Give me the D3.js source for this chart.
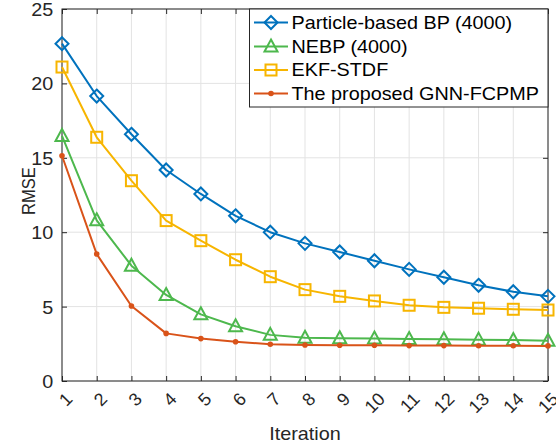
<!DOCTYPE html>
<html><head><meta charset="utf-8">
<script src="https://cdn.jsdelivr.net/npm/d3@7"></script>
<style>
html,body{margin:0;padding:0;background:#fff;}
svg{display:block;font-family:"Liberation Sans",Arial,Helvetica,sans-serif;}
</style></head>
<body><svg id="c" width="556" height="446"></svg>
<script>
const iterations = [1,2,3,4,5,6,7,8,9,10,11,12,13,14,15];
const bpValues   = [22.67,19.15,16.58,14.18,12.57,11.1,10.0,9.25,8.67,8.08,7.5,6.97,6.43,6.0,5.69];
const nebpValues = [16.47,10.8,7.75,5.78,4.48,3.68,3.1,2.9,2.87,2.85,2.82,2.8,2.78,2.75,2.7];
const ekfValues  = [21.1,16.38,13.46,10.78,9.43,8.15,7.01,6.14,5.69,5.38,5.09,4.95,4.89,4.82,4.77];
const gnnValues  = [15.14,8.53,5.04,3.2,2.85,2.64,2.47,2.42,2.4,2.4,2.38,2.38,2.37,2.37,2.36];
const seriesNames = ["Particle-based BP (4000)","NEBP (4000)","EKF-STDF","The proposed GNN-FCPMP"];
const yTicks = [0,5,10,15,20,25];
const xLabel = "Iteration", yLabel = "RMSE";

const series = [
  {name: seriesNames[0], values: bpValues,   color:"#0072BD", marker:"diamond"},
  {name: seriesNames[1], values: nebpValues, color:"#4DB84D", marker:"triangle"},
  {name: seriesNames[2], values: ekfValues,  color:"#F7B500", marker:"square"},
  {name: seriesNames[3], values: gnnValues,  color:"#D95319", marker:"dot"}
];

const L = 62, R = 548, T = 9, B = 381;
const x = d3.scaleLinear().domain([1,15]).range([L,R]);
const y = d3.scaleLinear().domain([0,25]).range([B,T]);
const svg = d3.select("#c");
const axisColor = "#262626";

// grid
const g = svg.append("g");
g.selectAll(".vg").data(iterations).enter().append("line")
  .attr("x1",d=>x(d)).attr("x2",d=>x(d)).attr("y1",T).attr("y2",B)
  .attr("stroke","#e3e3e3").attr("stroke-width",1);
g.selectAll(".hg").data(yTicks).enter().append("line")
  .attr("x1",L).attr("x2",R).attr("y1",d=>y(d)).attr("y2",d=>y(d))
  .attr("stroke","#e3e3e3").attr("stroke-width",1);

// axes
function styleAxis(sel){
  sel.select(".domain").remove();
  sel.selectAll(".tick line").attr("stroke",axisColor).attr("stroke-width",1);
}
const xb = svg.append("g").attr("transform",`translate(0,${B})`)
  .call(d3.axisBottom(x).tickValues(iterations).tickSize(-5).tickFormat(d3.format("d")));
styleAxis(xb);
xb.selectAll(".tick text")
  .attr("font-size",18).attr("fill",axisColor)
  .attr("text-anchor","end").attr("y",0).attr("x",0).attr("dy","0.72em")
  .attr("transform","translate(2,10) rotate(-45)");
const xt = svg.append("g").attr("transform",`translate(0,${T})`)
  .call(d3.axisTop(x).tickValues(iterations).tickSize(-5).tickFormat(""));
styleAxis(xt);
const yl = svg.append("g").attr("transform",`translate(${L},0)`)
  .call(d3.axisLeft(y).tickValues(yTicks).tickSize(-5).tickFormat(d3.format("d")));
styleAxis(yl);
yl.selectAll(".tick text").attr("font-size",18).attr("fill",axisColor)
  .attr("x",-8).attr("dy","0.36em")
  .attr("transform","scale(1.1,1)");
const yr = svg.append("g").attr("transform",`translate(${R},0)`)
  .call(d3.axisRight(y).tickValues(yTicks).tickSize(-5).tickFormat(""));
styleAxis(yr);
svg.append("rect").attr("x",L).attr("y",T).attr("width",R-L).attr("height",B-T)
  .attr("fill","none").attr("stroke",axisColor).attr("stroke-width",1);

// labels
svg.append("text").attr("transform",`translate(${(L+R)/2},440) scale(1.1,1)`)
  .attr("text-anchor","middle").attr("font-size",18).attr("fill",axisColor).text(xLabel);
svg.append("text").attr("transform",`translate(35,191) rotate(-90) scale(0.92,1)`)
  .attr("text-anchor","middle").attr("font-size",18).attr("fill",axisColor).text(yLabel);

// markers
function drawMarker(sel, type, color){
  if(type==="diamond"){
    sel.append("path").attr("d","M0,-6.5L6.5,0L0,6.5L-6.5,0Z")
      .attr("fill","none").attr("stroke",color).attr("stroke-width",2);
  } else if(type==="square"){
    sel.append("rect").attr("x",-5.5).attr("y",-5.5).attr("width",11).attr("height",11)
      .attr("fill","none").attr("stroke",color).attr("stroke-width",2);
  } else if(type==="triangle"){
    sel.append("path").attr("d","M0,-7L6.5,5L-6.5,5Z")
      .attr("fill","none").attr("stroke",color).attr("stroke-width",2);
  } else {
    sel.append("circle").attr("r",2.8).attr("fill",color);
  }
}

const line = d3.line().x((d,i)=>x(iterations[i])).y(d=>y(d));
series.forEach(s=>{
  svg.append("path").datum(s.values).attr("d",line)
    .attr("fill","none").attr("stroke",s.color).attr("stroke-width",2).attr("stroke-linejoin","round");
  s.values.forEach((v,i)=>{
    const m = svg.append("g").attr("transform",`translate(${x(iterations[i])},${y(v)})`);
    drawMarker(m, s.marker, s.color);
  });
});

// legend
const lg = svg.append("g");
lg.append("rect").attr("x",249.5).attr("y",T).attr("width",R-249.5).attr("height",98)
  .attr("fill","#fff").attr("stroke",axisColor).attr("stroke-width",1);
const rowY = [22.5, 46.5, 70, 93.5];
series.forEach((s,i)=>{
  const r = lg.append("g").attr("transform",`translate(0,${rowY[i]})`);
  r.append("line").attr("x1",254).attr("x2",288).attr("y1",0).attr("y2",0)
    .attr("stroke",s.color).attr("stroke-width",2);
  const m = r.append("g").attr("transform","translate(271,0)");
  drawMarker(m, s.marker, s.color);
  r.append("text").attr("transform","translate(291.5,0) scale(1.1,1)")
    .attr("dy","0.36em").attr("font-size",18).attr("fill","#000").text(s.name);
});
</script></body></html>
